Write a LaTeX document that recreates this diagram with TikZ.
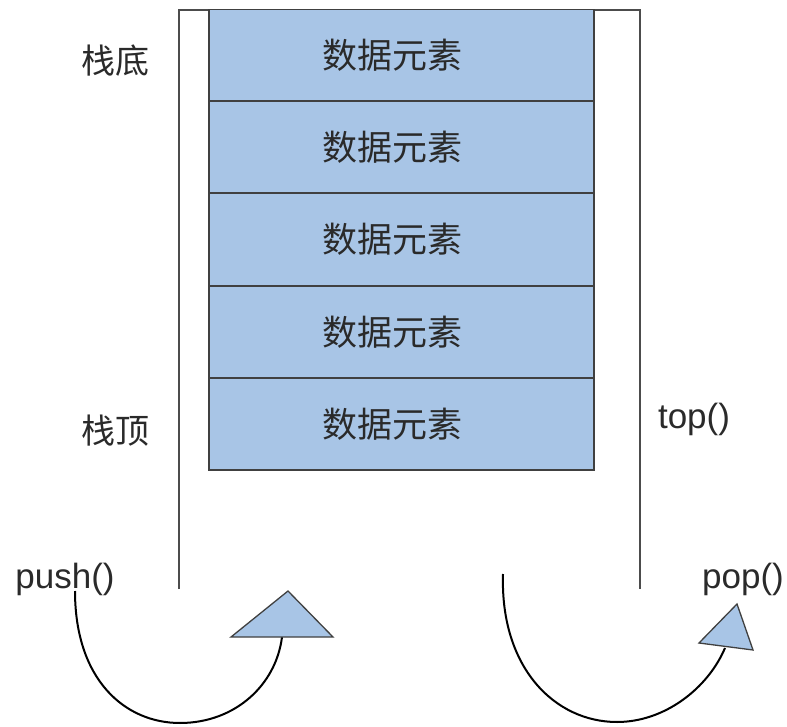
\documentclass[tikz,border=0pt]{standalone}
\usepackage{fontspec}
\setmainfont{Liberation Sans}
\newfontfamily\cjk{Noto Sans CJK SC}
\definecolor{cellblue}{HTML}{A8C5E6}
\definecolor{txtgray}{HTML}{2A2A2A}
\newcommand{\celltxt}{\kern-18pt 数据元素}
\begin{document}
\begin{tikzpicture}[x=1pt,y=-1pt,
  cell/.style={draw=black!75,line width=1.3pt,fill=cellblue,minimum width=385pt,minimum height=92pt,inner sep=0pt,
    font=\cjk\fontsize{35}{40}\selectfont,text=txtgray},
  lbl/.style={font=\fontsize{35}{40}\selectfont,text=txtgray,inner sep=0pt},
  cjklbl/.style={font=\cjk\fontsize{34}{40}\selectfont,text=txtgray,inner sep=0pt},
  wall/.style={draw=black!70,line width=1.3pt},
  arc/.style={draw=black,line width=2pt},
  tri/.style={draw=black!75,line width=1.3pt,fill=cellblue,line join=miter}]
\useasboundingbox (0,0) rectangle (787,727);
% outer container
\coordinate (wl) at (179,589);
\coordinate (wtl) at (179,10);
\coordinate (wtr) at (640,10);
\coordinate (wr) at (640,589);
\draw[wall] (wl) -- (wtl) -- (wtr) -- (wr);
% cells
\node[cell] (c1) at (401.5,55.5) {\celltxt};
\node[cell] (c2) at (401.5,147) {\celltxt};
\node[cell] (c3) at (401.5,239.5) {\celltxt};
\node[cell] (c4) at (401.5,332) {\celltxt};
\node[cell] (c5) at (401.5,424) {\celltxt};
% labels
\node[cjklbl] (bottom) at (115,61) {栈底};
\node[cjklbl] (topl) at (115,431) {栈顶};
\node[lbl] (topf) at (694,419) {top()};
\node[lbl] (push) at (65,579) {push()};
\node[lbl] (pop) at (743,579) {pop()};
% push arrow
\coordinate (ps) at (75,591);
\coordinate (pb) at (180,723);
\coordinate (pe) at (282,637);
\draw[arc] (ps) .. controls (75,680) and (125,723) .. (pb) .. controls (235,723) and (276,685) .. (pe);
\coordinate (pa) at (288,591);
\coordinate (pl) at (231,637);
\coordinate (pr) at (333,637);
\draw[tri] (pa) -- (pl) -- (pr) -- cycle;
% pop arrow
\coordinate (os) at (503,574);
\coordinate (ob) at (617,722);
\coordinate (oe) at (725,648);
\draw[arc] (os) .. controls (500,668) and (555,722) .. (ob) .. controls (665,722) and (708,688) .. (oe);
\coordinate (oa) at (737,604);
\coordinate (ol) at (699,643);
\coordinate (or) at (753,650);
\draw[tri] (oa) -- (ol) -- (or) -- cycle;
\end{tikzpicture}
\end{document}
